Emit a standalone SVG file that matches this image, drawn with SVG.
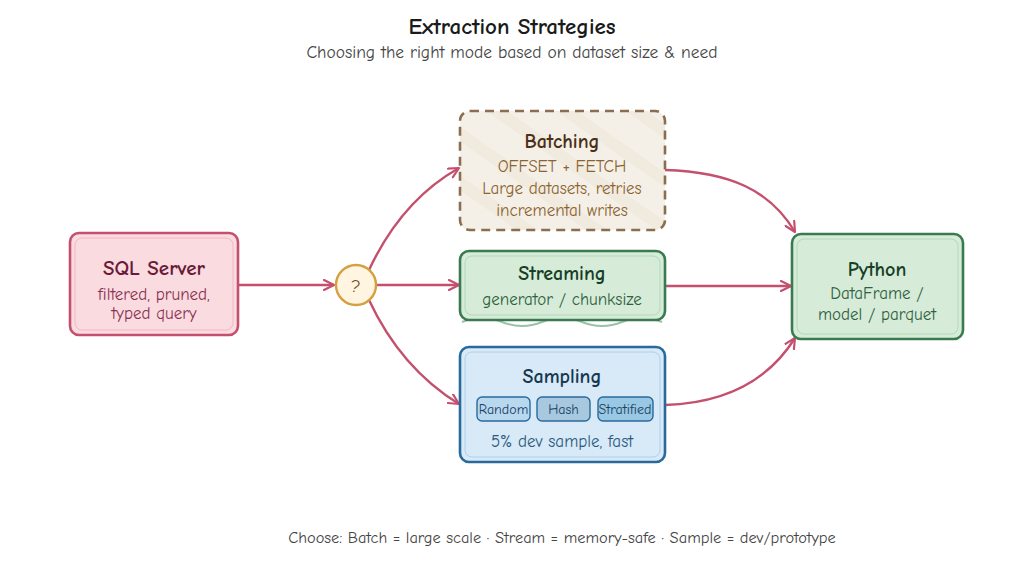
<svg xmlns="http://www.w3.org/2000/svg" width="1024" height="568" viewBox="0 0 1024 568">
<defs>
<style>
text{font-family:"Comic Sans MS","Comic Neue","Noto Sans",sans-serif;text-anchor:middle}
.t{font-size:20px;font-weight:bold}
.s{font-size:17px}
.c{font-size:14px}
.conn{fill:none;stroke:#c4506e;stroke-width:2.4}
</style>
<marker id="ah" viewBox="0 0 12 12" refX="11" refY="6" markerWidth="12" markerHeight="12" markerUnits="userSpaceOnUse" orient="auto">
<path d="M1,1 L11,6 L1,11" fill="none" stroke="#c4506e" stroke-width="2.2" stroke-linecap="round" stroke-linejoin="round"/>
</marker>
<pattern id="hatch" width="40" height="40" patternUnits="userSpaceOnUse" patternTransform="rotate(35)">
<rect width="40" height="12" fill="#ebe3d4" opacity="0.45"/>
</pattern>
</defs>
<rect width="1024" height="568" fill="#ffffff"/>
<g id="title">
<text x="512" y="34" style="font-size:23px;font-weight:bold" fill="#1a1a1a">Extraction Strategies</text>
<text x="512" y="58" style="font-size:17.5px" fill="#444">Choosing the right mode based on dataset size &amp; need</text>
</g>
<g id="connectors">
<path class="conn" d="M238,285 L334,285" marker-end="url(#ah)"/>
<path class="conn" d="M369,270 C390,225 420,190 459,168" marker-end="url(#ah)"/>
<path class="conn" d="M377,285 L459,285" marker-end="url(#ah)"/>
<path class="conn" d="M369,300 C390,345 420,380 459,404" marker-end="url(#ah)"/>
<path class="conn" d="M665,170 C730,172 770,190 795,232" marker-end="url(#ah)"/>
<path class="conn" d="M665,286 L791,286" marker-end="url(#ah)"/>
<path class="conn" d="M665,405 C730,403 770,378 795,338" marker-end="url(#ah)"/>
</g>
<g id="sql">
<rect x="70" y="233" width="168" height="102" rx="9" fill="#fadbe0" stroke="#c4506e" stroke-width="2.6"/>
<rect x="75" y="238" width="158" height="92" rx="7" fill="none" stroke="#f2b8c4" stroke-width="1"/>
<text x="154" y="275" style="font-size:21px;font-weight:bold" fill="#6a1a38">SQL Server</text>
<text x="154" y="300" class="s" fill="#8a3050">filtered, pruned,</text>
<text x="154" y="319" class="s" fill="#8a3050">typed query</text>
</g>
<g id="decision">
<circle cx="356" cy="285" r="20" fill="#fff5e0" stroke="#d4a040" stroke-width="2.4"/>
<text x="356" y="292" style="font-size:19px" fill="#6a4a20">?</text>
</g>
<g id="batching">
<rect x="460" y="111" width="205" height="119" rx="10" fill="#f5f0e7"/>
<rect x="460" y="111" width="205" height="119" rx="10" fill="url(#hatch)"/>
<rect x="460" y="111" width="205" height="119" rx="10" fill="none" stroke="#8a6e50" stroke-width="2.6" stroke-dasharray="9,6"/>
<text x="562" y="148" class="t" fill="#4a3018">Batching</text>
<text x="562" y="172" class="s" fill="#8a6430">OFFSET + FETCH</text>
<text x="562" y="194" class="s" fill="#8a6430">Large datasets, retries</text>
<text x="562" y="216" class="s" fill="#8a6430">incremental writes</text>
</g>
<g id="streaming">
<path d="M462,322 q20,-8 40,0 t40,0 t40,0 t40,0 t40,0" fill="none" stroke="#9cc0a8" stroke-width="2"/>
<rect x="460" y="251" width="205" height="69" rx="9" fill="#d6ecd8" stroke="#3a7a50" stroke-width="2.6"/>
<rect x="465" y="256" width="195" height="59" rx="7" fill="none" stroke="#b0d8b8" stroke-width="1"/>
<text x="562" y="280" class="t" fill="#173e26">Streaming</text>
<text x="562" y="305" class="s" fill="#2f6040">generator / chunksize</text>
</g>
<g id="sampling">
<rect x="460" y="347" width="205" height="115" rx="9" fill="#d8e9f7" stroke="#2a6a9a" stroke-width="2.6"/>
<rect x="465" y="352" width="195" height="105" rx="7" fill="none" stroke="#b0d0ea" stroke-width="1"/>
<text x="562" y="383" class="t" fill="#153850">Sampling</text>
<rect x="477" y="397" width="53" height="24" rx="5" fill="#b8d8f0" stroke="#2a6a9a" stroke-width="1.4"/>
<text x="503.5" y="414" class="c" fill="#1a4060">Random</text>
<rect x="537" y="397" width="53" height="24" rx="5" fill="#a8c8e0" stroke="#2a6a9a" stroke-width="1.4"/>
<text x="563.5" y="414" class="c" fill="#1a4060">Hash</text>
<rect x="598" y="397" width="55" height="24" rx="5" fill="#98c8e4" stroke="#2a6a9a" stroke-width="1.4"/>
<text x="625" y="414" class="c" fill="#1a4060">Stratified</text>
<text x="562" y="447" class="s" fill="#2a5a80">5% dev sample, fast</text>
</g>
<g id="python">
<rect x="792" y="234" width="171" height="105" rx="9" fill="#d6ecd8" stroke="#3a7a50" stroke-width="2.6"/>
<rect x="797" y="239" width="161" height="95" rx="7" fill="none" stroke="#b0d8b8" stroke-width="1"/>
<text x="877" y="276" class="t" fill="#173e26">Python</text>
<text x="877" y="299" class="s" fill="#2f6040">DataFrame /</text>
<text x="877" y="320" class="s" fill="#2f6040">model / parquet</text>
</g>
<g id="footer">
<text x="562" y="543" style="font-size:16.4px" fill="#444">Choose: Batch = large scale · Stream = memory-safe · Sample = dev/prototype</text>
</g>
</svg>
